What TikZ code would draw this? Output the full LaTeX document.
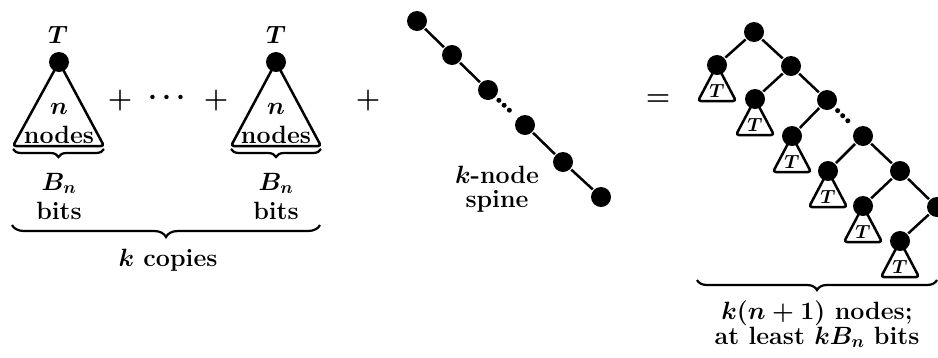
\documentclass[tikz,border=0pt]{standalone}
\usepackage{fix-cm}
\usetikzlibrary{positioning,decorations.pathreplacing}

\begin{document}
\begin{tikzpicture}[x=1pt, y=-1pt, line width=2.5pt,
  every node/.style={font=\fontsize{25}{21}\selectfont\bfseries\boldmath, inner sep=0pt},
  dot/.style={circle,fill=black,minimum size=20pt,inner sep=0pt},
  subtree/.style={line width=2.5pt,rounded corners=3pt},
  brc/.style={decorate,decoration={brace,mirror,amplitude=#1},line width=2.2pt},
  brc/.default=8pt,
  dotgap/.style={line width=5pt,line cap=round,dash pattern=on 0pt off 7.2pt,shorten <=15pt,shorten >=21pt},
  op/.style={font=\fontsize{28}{30}\selectfont\bfseries\boldmath},
  smallT/.style={font=\fontsize{19}{20}\selectfont\bfseries\boldmath}]
\useasboundingbox (0,0) rectangle (938,357);

% first copy of T
\node[dot] (copyA) at (59,62) {};
\node[anchor=base] (copyAlbl) at (58,43) {$T$};
\coordinate (copyAl) at (13,146);
\coordinate (copyAr) at (104,146);
\draw[subtree] (copyA.center) -- (copyAl) -- (copyAr) -- cycle;
\node[anchor=base] (copyAn) at (59,114) {$n$};
\node[anchor=base] (copyAnodes) at (59,143) {nodes};
\draw[brc=8pt] ([yshift=-3pt]copyAl) -- ([yshift=-3pt]copyAr);
\node[anchor=base] (copyAbn) at (59,190) {$B_n$};
\node[anchor=base] (copyAbits) at (59,219) {bits};

% plus, dots, plus
\node[op] (plusA) at (120,100) {$+$};
\node[op] (ellip) at (167,98) {$\cdots$};
\node[op] (plusB) at (216,100) {$+$};

% last copy of T
\node[dot] (copyB) at (276,62) {};
\node[anchor=base] (copyBlbl) at (276,43) {$T$};
\coordinate (copyBl) at (231,146);
\coordinate (copyBr) at (321,146);
\draw[subtree] (copyB.center) -- (copyBl) -- (copyBr) -- cycle;
\node[anchor=base] (copyBn) at (276,114) {$n$};
\node[anchor=base] (copyBnodes) at (276,143) {nodes};
\draw[brc=8pt] ([yshift=-3pt]copyBl) -- ([yshift=-3pt]copyBr);
\node[anchor=base] (copyBbn) at (276,190) {$B_n$};
\node[anchor=base] (copyBbits) at (276,219) {bits};

% k copies
\coordinate (copiesl) at (12,225);
\coordinate (copiesr) at (320,225);
\draw[brc=12pt] (copiesl) -- (copiesr);
\node[anchor=base] (copies) at (168,266) {$k$ copies};

\node[op] (plusC) at (368,100) {$+$};

% spine
\node[dot] (sp1) at (417,21) {};
\node[dot] (sp2) at (452,55) {};
\node[dot] (sp3) at (488,90) {};
\node[dot] (sp4) at (525,125) {};
\node[dot] (sp5) at (563,162) {};
\node[dot] (sp6) at (601,197) {};
\draw (sp1) -- (sp2) -- (sp3);
\draw[dotgap] (sp3.center) -- (sp4.center);
\draw (sp4) -- (sp5) -- (sp6);
\node[align=center,anchor=north] (spine) at (497,165) {$k$-node\\[3pt]spine};

\node[op] (eq) at (658,100) {$=$};

% combined tree: spine with a T hanging left of each node
\node[dot] (rt1) at (754,32) {};
\node[dot] (rt2) at (791,66) {};
\node[dot] (rt3) at (827,100) {};
\node[dot] (rt4) at (863,136) {};
\node[dot] (rt5) at (900,171) {};
\node[dot] (rt6) at (937,207) {};
\node[dot] (lf1) at (717,65) {};
\node[dot] (lf2) at (755,99) {};
\node[dot] (lf3) at (792,136) {};
\node[dot] (lf4) at (828,171) {};
\node[dot] (lf5) at (863,206) {};
\node[dot] (lf6) at (900,241) {};
\draw (rt1) -- (rt2) -- (rt3);
\draw[dotgap] (rt3.center) -- (rt4.center);
\draw (rt4) -- (rt5) -- (rt6);
\draw (rt1) -- (lf1);
\draw (rt2) -- (lf2);
\draw (rt3) -- (lf3);
\draw (rt4) -- (lf4);
\draw (rt5) -- (lf5);
\draw (rt6) -- (lf6);
\draw[subtree] (lf1.center) -- ++(-19,36) -- ++(38,0) -- cycle;
\draw[subtree] (lf2.center) -- ++(-19,36) -- ++(38,0) -- cycle;
\draw[subtree] (lf3.center) -- ++(-19,36) -- ++(38,0) -- cycle;
\draw[subtree] (lf4.center) -- ++(-19,36) -- ++(38,0) -- cycle;
\draw[subtree] (lf5.center) -- ++(-19,36) -- ++(38,0) -- cycle;
\draw[subtree] (lf6.center) -- ++(-19,36) -- ++(38,0) -- cycle;
\node[smallT] (tT1) at ([yshift=-26pt]lf1) {$T$};
\node[smallT] (tT2) at ([yshift=-26pt]lf2) {$T$};
\node[smallT] (tT3) at ([yshift=-26pt]lf3) {$T$};
\node[smallT] (tT4) at ([yshift=-26pt]lf4) {$T$};
\node[smallT] (tT5) at ([yshift=-26pt]lf5) {$T$};
\node[smallT] (tT6) at ([yshift=-26pt]lf6) {$T$};

% total count
\coordinate (totall) at (697,280);
\coordinate (totalr) at (937,280);
\draw[brc=10pt] (totall) -- (totalr);
\node[anchor=base] (totala) at (817,319) {$k(n+1)$ nodes;};
\node[anchor=base] (totalb) at (817,344) {at least $kB_n$ bits};
\end{tikzpicture}
\end{document}
